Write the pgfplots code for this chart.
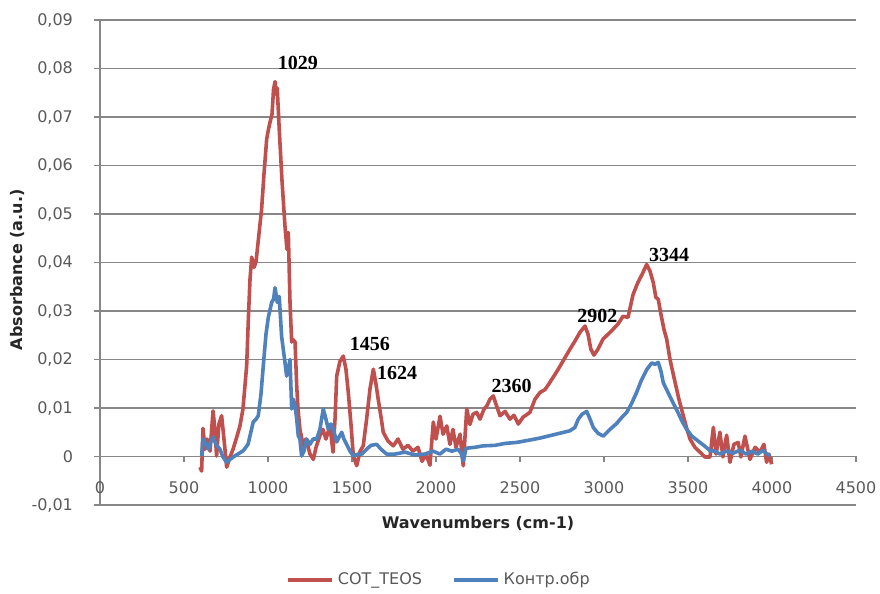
\documentclass[border=0pt]{standalone}
\usepackage{fontspec}
\setmainfont{DejaVu Sans}
\newfontfamily\annfont{Liberation Serif}
\usepackage{pgfplots}
\pgfplotsset{compat=1.18}
\definecolor{redS}{HTML}{C0504D}
\definecolor{blueS}{HTML}{4F81BD}
\definecolor{gridc}{HTML}{878787}
\definecolor{txt}{HTML}{595959}
\begin{document}
\begin{tikzpicture}
\path[use as bounding box] (-50pt,-44.5pt) rectangle (390pt,252.5pt);
\begin{axis}[
  at={(0pt,0pt)}, anchor=south west,
  scale only axis, width=378pt, height=242.5pt,
  xmin=0, xmax=4500, ymin=-0.01, ymax=0.09,
  clip=false,
  scaled y ticks=false, scaled x ticks=false,
  axis x line=middle, axis y line=left,
  axis line style={-, draw=gridc, line width=0.8pt},
  hide obscured x ticks=false, hide obscured y ticks=false,
  xtick={0,500,1000,1500,2000,2500,3000,3500,4000,4500},
  xticklabels={0,500,1000,1500,2000,2500,3000,3500,4000,4500},
  ytick={-0.01,0,0.01,0.02,0.03,0.04,0.05,0.06,0.07,0.08,0.09},
  yticklabels={{-0,01},{0},{0,01},{0,02},{0,03},{0,04},{0,05},{0,06},{0,07},{0,08},{0,09}},
  ymajorgrids, grid style={draw=gridc, line width=0.8pt},
  tick align=outside, major tick length=3pt,
  tick style={draw=gridc, line width=0.8pt},
  tick label style={font=\fontsize{8}{9.6}\selectfont, text=txt},
  xticklabel style={anchor=north, yshift=-6pt},
  yticklabel style={anchor=east, xshift=-7pt},
  legend style={at={(0.4497,-0.1546)}, anchor=center, draw=none, fill=none,
    legend columns=2, font=\fontsize{8}{9.6}\selectfont, text=txt,
    /tikz/every even column/.append style={column sep=13pt}},
  legend image code/.code={\draw[#1, line width=1.8pt] (0pt,0pt) -- (22pt,0pt);},
]
\addplot[redS, line width=1.8pt, line join=round] coordinates {
(595,-0.0022)(605,-0.003)(613,0.0058)(625,0.0015)(637,0.0036)(655,0.0011)(673,0.0094)(684,0.0056)(694,0.0001)(708,0.0067)(724,0.0084)(738,0.0036)(754,-0.0022)(774,-0.0001)(792,0.0015)(814,0.004)(833,0.0063)(851,0.0098)(873,0.0187)(883,0.0283)(893,0.0366)(903,0.0411)(917,0.039)(929,0.0402)(946,0.0458)(962,0.051)(976,0.0582)(992,0.0654)(1003,0.0675)(1012,0.0689)(1024,0.0706)(1033,0.0757)(1042,0.0773)(1049,0.0746)(1055,0.076)(1067,0.0674)(1083,0.0571)(1101,0.0475)(1113,0.0427)(1121,0.0462)(1131,0.0318)(1141,0.0236)(1149,0.0241)(1161,0.0236)(1171,0.0145)(1179,0.0097)(1190,0.0056)(1210,0.0022)(1226,0.0036)(1250,0.0005)(1270,-0.0006)(1286,0.0019)(1309,0.0043)(1327,0.0056)(1345,0.0036)(1369,0.0063)(1387,0.0009)(1399,0.0077)(1409,0.0166)(1428,0.0196)(1448,0.0207)(1464,0.018)(1478,0.0132)(1494,0.0066)(1508,0.0001)(1528,-0.0019)(1548,0.0011)(1567,0.0022)(1587,0.0077)(1607,0.0139)(1627,0.018)(1643,0.0149)(1656,0.0118)(1673,0.0081)(1686,0.005)(1714,0.0032)(1746,0.0022)(1774,0.0036)(1803,0.0015)(1833,0.0023)(1863,0.0011)(1893,0.0019)(1917,-0.001)(1940,0.0005)(1964,-0.0018)(1984,0.0071)(2000,0.0036)(2024,0.0083)(2042,0.0046)(2064,0.0063)(2083,0.0025)(2101,0.0056)(2119,0.0019)(2143,0.0046)(2162,-0.0019)(2183,0.0098)(2202,0.0066)(2220,0.0087)(2242,0.0091)(2262,0.0077)(2286,0.0098)(2302,0.0104)(2321,0.0118)(2341,0.0125)(2357,0.0108)(2381,0.0084)(2411,0.0093)(2440,0.0077)(2464,0.0085)(2490,0.0067)(2518,0.0081)(2559,0.0091)(2589,0.0118)(2619,0.0132)(2649,0.0138)(2678,0.0153)(2708,0.0169)(2738,0.0186)(2768,0.0204)(2797,0.0221)(2827,0.0238)(2857,0.0256)(2887,0.0269)(2905,0.0252)(2922,0.0221)(2940,0.0209)(2964,0.0221)(2994,0.0242)(3024,0.0252)(3053,0.0262)(3083,0.0273)(3113,0.0289)(3143,0.0287)(3173,0.0334)(3202,0.0359)(3226,0.0375)(3254,0.0396)(3274,0.0382)(3293,0.0359)(3309,0.0328)(3323,0.0324)(3339,0.0293)(3357,0.0262)(3373,0.0242)(3393,0.02)(3423,0.0153)(3446,0.0118)(3472,0.0084)(3494,0.0056)(3512,0.0036)(3541,0.0019)(3571,0.0009)(3601,-0.0001)(3631,-0.0001)(3651,0.006)(3667,0.0005)(3690,0.005)(3708,-0.0001)(3730,0.0044)(3750,-0.0012)(3773,0.0025)(3799,0.0029)(3815,-0.0001)(3839,0.0042)(3869,-0.0006)(3899,0.0019)(3928,0.0009)(3952,0.0025)(3968,-0.0012)(3982,0.0005)(3998,-0.0016)
};
\addlegendentry{COT\_TEOS}
\addplot[blueS, line width=1.8pt, line join=round] coordinates {
(605,0.0001)(613,0.0036)(625,0.0029)(645,0.0015)(661,0.0032)(674,0.004)(690,0.0025)(714,0.0015)(732,-0.0001)(754,-0.0012)(774,-0.0006)(793,-0.0001)(821,0.0005)(853,0.0012)(881,0.0025)(912,0.0071)(929,0.0077)(942,0.0084)(958,0.0128)(972,0.0187)(988,0.0252)(1002,0.0287)(1022,0.0318)(1033,0.0324)(1042,0.0348)(1055,0.0318)(1067,0.033)(1081,0.0248)(1091,0.0221)(1101,0.0194)(1111,0.0166)(1121,0.018)(1131,0.02)(1141,0.0098)(1151,0.0118)(1161,0.0105)(1171,0.0077)(1180,0.0043)(1190,0.0036)(1200,0.0001)(1214,0.0011)(1230,0.0036)(1250,0.0025)(1268,0.0036)(1290,0.0036)(1309,0.0056)(1329,0.0098)(1345,0.0077)(1359,0.0056)(1375,0.0067)(1389,0.0056)(1409,0.003)(1423,0.004)(1439,0.005)(1452,0.0036)(1468,0.0025)(1488,0.0011)(1508,0.0001)(1536,0.0005)(1559,0.0005)(1587,0.0015)(1613,0.0023)(1647,0.0025)(1673,0.0015)(1706,0.0005)(1756,0.0005)(1815,0.0009)(1875,0.0003)(1934,0.0005)(1982,0.0011)(2024,0.0005)(2059,0.0015)(2095,0.0011)(2131,0.0015)(2149,0.0007)(2163,-0.0009)(2179,0.0017)(2232,0.0019)(2281,0.0022)(2351,0.0023)(2411,0.0027)(2480,0.0029)(2559,0.0034)(2619,0.0038)(2678,0.0043)(2738,0.0048)(2797,0.0053)(2827,0.006)(2847,0.0077)(2869,0.0087)(2897,0.0093)(2917,0.0077)(2936,0.006)(2964,0.0048)(2996,0.0042)(3036,0.0056)(3075,0.0068)(3107,0.0081)(3135,0.0091)(3161,0.0107)(3194,0.0132)(3220,0.0155)(3254,0.0179)(3284,0.0193)(3303,0.019)(3323,0.0194)(3339,0.0176)(3353,0.0152)(3381,0.0132)(3412,0.011)(3440,0.0091)(3464,0.0073)(3492,0.0056)(3523,0.0042)(3571,0.0029)(3601,0.0021)(3631,0.0012)(3660,0.0011)(3690,0.0005)(3726,0.0011)(3770,0.0007)(3809,0.0013)(3845,0.0005)(3881,0.0011)(3916,0.0005)(3946,0.0013)(3970,0.0005)(3988,0.0001)
};
\addlegendentry{Контр.обр}
\node[font=\annfont\bfseries\fontsize{10}{12}\selectfont] at (axis cs:1178,0.0812) {1029};
\node[font=\annfont\bfseries\fontsize{10}{12}\selectfont] at (axis cs:1607,0.02315) {1456};
\node[font=\annfont\bfseries\fontsize{10}{12}\selectfont] at (axis cs:1768,0.0172) {1624};
\node[font=\annfont\bfseries\fontsize{10}{12}\selectfont] at (axis cs:2450,0.01456) {2360};
\node[font=\annfont\bfseries\fontsize{10}{12}\selectfont] at (axis cs:2961,0.029) {2902};
\node[font=\annfont\bfseries\fontsize{10}{12}\selectfont] at (axis cs:3387,0.0415) {3344};
\node[font=\bfseries\fontsize{8}{9.6}\selectfont, text=black!85] at (axis description cs:0.5,-0.0371) {Wavenumbers (cm-1)};
\node[font=\bfseries\fontsize{8}{9.6}\selectfont, text=black!85, rotate=90] at (axis description cs:-0.1085,0.485) {Absorbance (a.u.)};
\end{axis}
\end{tikzpicture}
\end{document}
